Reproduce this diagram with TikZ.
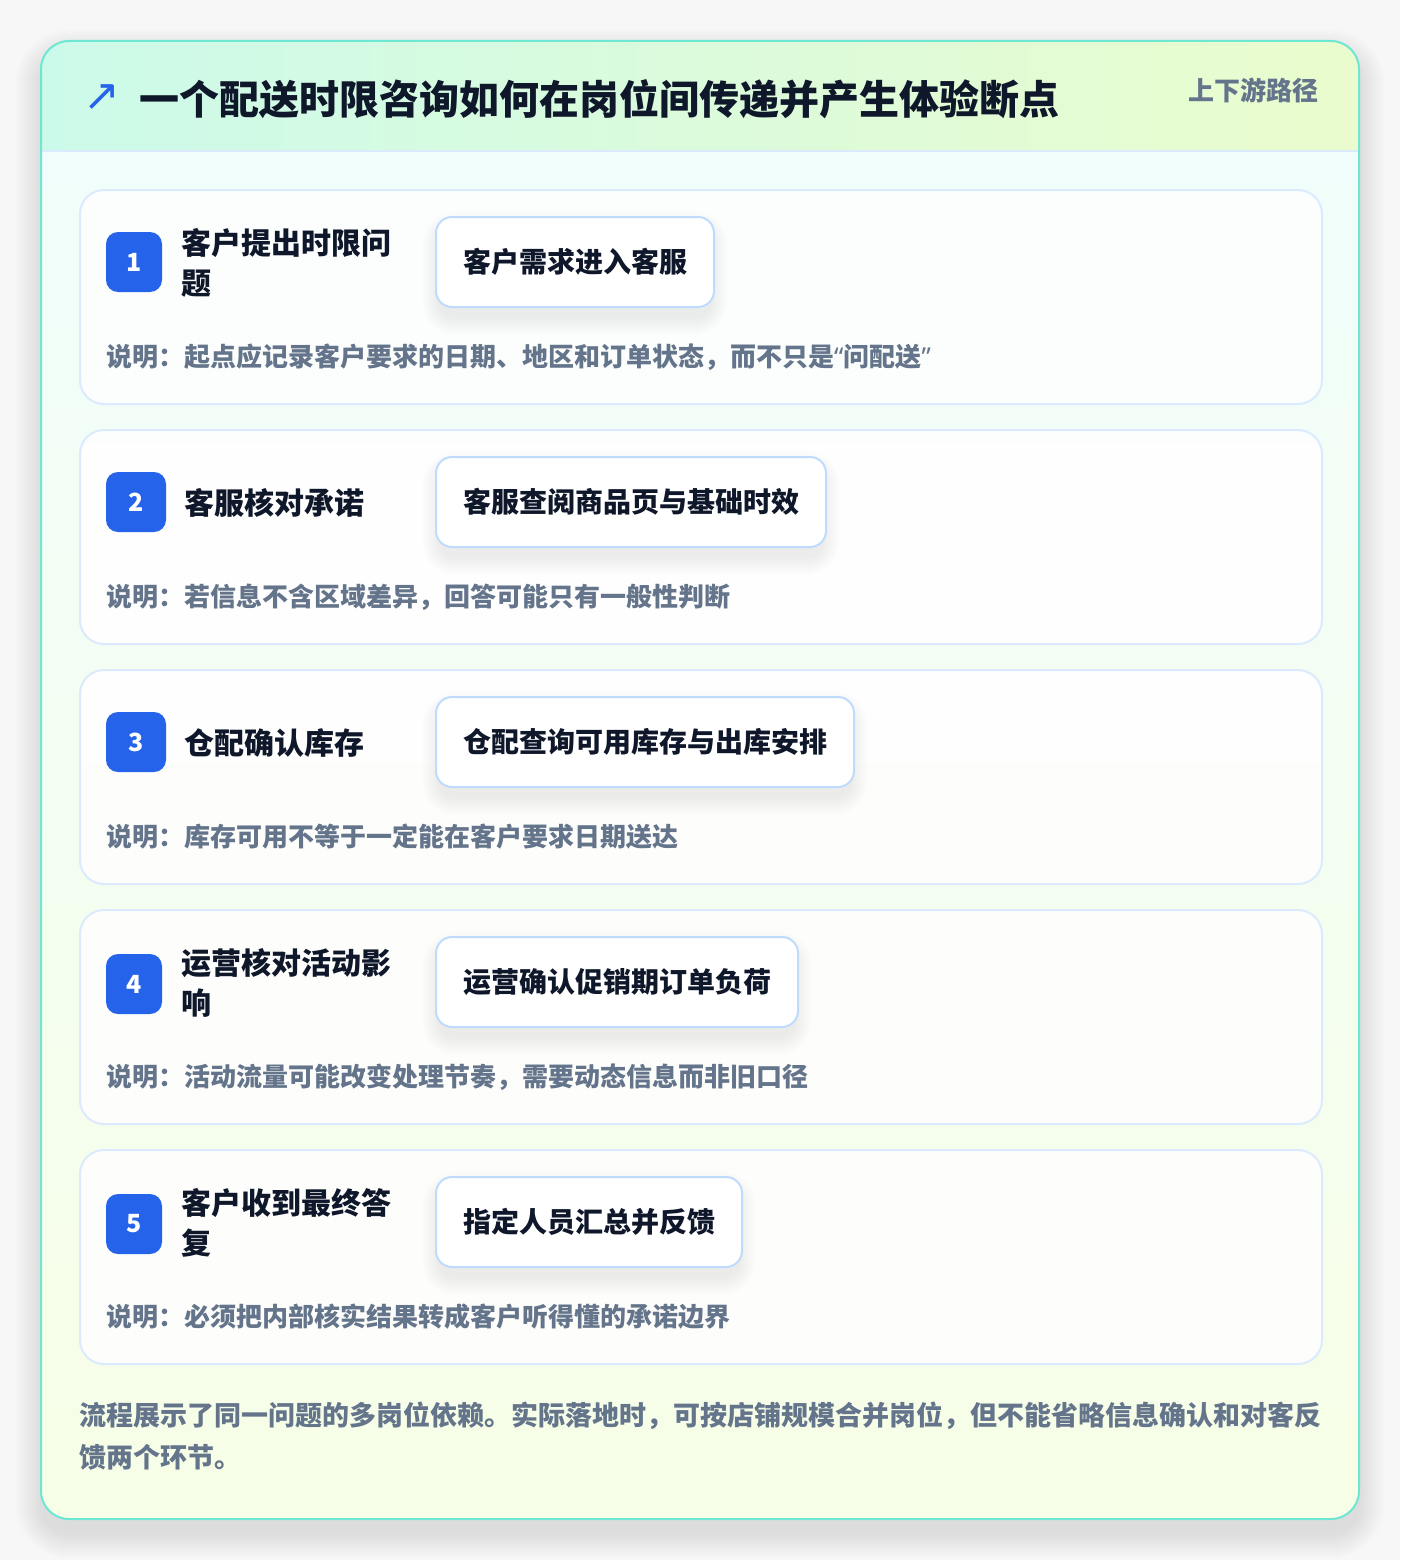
\documentclass[tikz,border=0pt]{standalone}
\usepackage{fontspec}
\setmainfont{Noto Sans CJK SC}
\newfontfamily\symfont{DejaVu Sans}
\newfontfamily\latinfont{Noto Sans}
\definecolor{pagebg}{HTML}{F7F7F8}
\definecolor{brandblue}{HTML}{2563EB}
\definecolor{ink}{HTML}{0F172A}
\definecolor{slate}{HTML}{64748B}
\definecolor{cardline}{HTML}{DBEAFE}
\definecolor{actline}{HTML}{BFDBFE}
\definecolor{frameline}{HTML}{6EE7D2}
\definecolor{headL}{HTML}{CCFAEA}
\definecolor{headR}{HTML}{EAFCCD}
\definecolor{bodyT}{HTML}{F0FDFA}
\definecolor{bodyB}{HTML}{F7FEE7}
\tikzset{
  stepcard/.style={draw=cardline, line width=2pt, fill=white, fill opacity=0.85, rounded corners=24pt,
    minimum width=1242pt, minimum height=214pt, anchor=north west, inner sep=0pt},
  badge/.style={fill=brandblue, rounded corners=12pt, text=white, minimum height=60pt, inner sep=0pt,
    font=\fontsize{25}{26}\selectfont\bfseries},
  steptitle/.style={anchor=west, inner sep=0pt, align=left, text=ink, font=\fontsize{30}{40}\selectfont\bfseries},
  actionbox/.style={anchor=west, draw=actline, line width=2pt, fill=white, rounded corners=16pt,
    minimum height=90pt, inner xsep=27pt, inner ysep=0pt, text=ink, font=\fontsize{28}{32}\selectfont\bfseries},
  notetext/.style={anchor=west, inner sep=0pt, text=slate, font=\fontsize{26}{30}\selectfont\bfseries},
}
% soft shadow behind a named node: #1 = node name
\newcommand{\softshadow}[1]{%
  \foreach \k in {0,...,17}{%
    \fill[black, opacity=0.0045, rounded corners={16pt+\k pt}]
      ([xshift=-\k pt+4pt, yshift=\k pt-12pt]#1.north west) rectangle ([xshift=\k pt-4pt, yshift=-\k pt-10pt]#1.south east);
  }%
}
\begin{document}
\begin{tikzpicture}[x=1pt,y=-1pt]
\fill[pagebg] (0,0) rectangle (1400,1560);
\useasboundingbox (0,0) rectangle (1400,1560);
% outer frame shadow
\foreach \k in {1,...,26}{
  \fill[black, opacity=0.005, rounded corners={28pt+\k pt}] (41-\k,41-\k+14) rectangle (1359+\k,1519+\k+14);
}
\begin{scope}
  \clip[rounded corners=28pt] (41,41) rectangle (1359,1519);
  \shade[left color=headL, right color=headR] (41,41) rectangle (1359,151);
  \shade[top color=bodyT, bottom color=bodyB] (41,151) rectangle (1359,1519);
\end{scope}
\draw[cardline, line width=2pt] (42,151) -- (1358,151);
\draw[frameline, line width=2pt, rounded corners=28pt] (41,41) rectangle (1359,1519);
% header
\node[inner sep=0pt, text=brandblue, font=\symfont\fontsize{44}{44}\selectfont] (arrow) at (102,98) {↗};
\node[anchor=west, inner sep=0pt, text=ink, font=\fontsize{40}{46}\selectfont\bfseries] (title) at (139,99) {一个配送时限咨询如何在岗位间传递并产生体验断点};
\node[anchor=east, inner sep=0pt, text=slate, font=\fontsize{26}{30}\selectfont\bfseries] (tag) at (1319,90) {上下游路径};
% step 1
\node[stepcard] (card1) at (79,189) {};
\node[badge, minimum width=56pt] (b1) at (134,262) {1};
\node[steptitle] (t1) at (181,263) {客户提出时限问\\题};
\node[actionbox, draw=none, fill=none] (s1) at (435,262) {\phantom{客户需求进入客服}};
\softshadow{s1}
\node[actionbox] (a1) at (435,262) {客户需求进入客服};
\node[notetext] (n1) at (106,357) {说明：起点应记录客户要求的日期、地区和订单状态，而不只是{\latinfont“}问配送{\latinfont”}};
% step 2
\node[stepcard] (card2) at (79,429) {};
\node[badge, minimum width=60pt] (b2) at (136,502) {2};
\node[steptitle] (t2) at (184,503) {客服核对承诺};
\node[actionbox, draw=none, fill=none] (s2) at (435,502) {\phantom{客服查阅商品页与基础时效}};
\softshadow{s2}
\node[actionbox] (a2) at (435,502) {客服查阅商品页与基础时效};
\node[notetext] (n2) at (106,597) {说明：若信息不含区域差异，回答可能只有一般性判断};
% step 3
\node[stepcard] (card3) at (79,669) {};
\node[badge, minimum width=60pt] (b3) at (136,742) {3};
\node[steptitle] (t3) at (184,743) {仓配确认库存};
\node[actionbox, draw=none, fill=none] (s3) at (435,742) {\phantom{仓配查询可用库存与出库安排}};
\softshadow{s3}
\node[actionbox] (a3) at (435,742) {仓配查询可用库存与出库安排};
\node[notetext] (n3) at (106,837) {说明：库存可用不等于一定能在客户要求日期送达};
% step 4
\node[stepcard] (card4) at (79,909) {};
\node[badge, minimum width=56pt] (b4) at (134,984) {4};
\node[steptitle] (t4) at (181,983) {运营核对活动影\\响};
\node[actionbox, draw=none, fill=none] (s4) at (435,982) {\phantom{运营确认促销期订单负荷}};
\softshadow{s4}
\node[actionbox] (a4) at (435,982) {运营确认促销期订单负荷};
\node[notetext] (n4) at (106,1077) {说明：活动流量可能改变处理节奏，需要动态信息而非旧口径};
% step 5
\node[stepcard] (card5) at (79,1149) {};
\node[badge, minimum width=56pt] (b5) at (134,1224) {5};
\node[steptitle] (t5) at (181,1223) {客户收到最终答\\复};
\node[actionbox, draw=none, fill=none] (s5) at (435,1222) {\phantom{指定人员汇总并反馈}};
\softshadow{s5}
\node[actionbox] (a5) at (435,1222) {指定人员汇总并反馈};
\node[notetext] (n5) at (106,1317) {说明：必须把内部核实结果转成客户听得懂的承诺边界};
% footer
\node[anchor=west, inner sep=0pt, align=left, text=slate, font=\fontsize{27}{42}\selectfont\bfseries] (foot) at (79,1436)
  {流程展示了同一问题的多岗位依赖。实际落地时，可按店铺规模合并岗位，但不能省略信息确认和对客反\\馈两个环节。};
\end{tikzpicture}
\end{document}
